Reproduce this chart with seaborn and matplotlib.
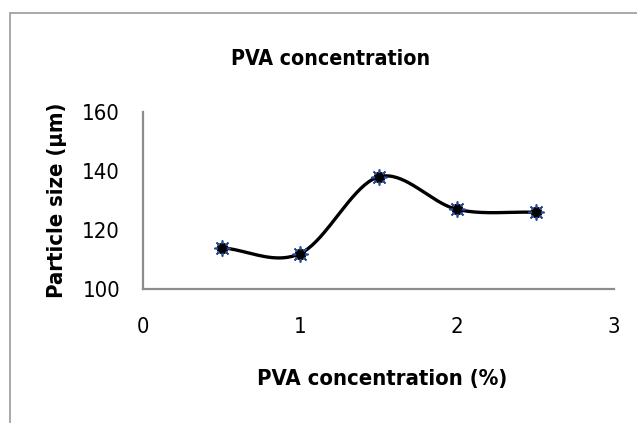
import numpy as np
import pandas as pd
import matplotlib
matplotlib.use("Agg")
import matplotlib.pyplot as plt
import seaborn as sns
from matplotlib.patches import Rectangle

# data
pva_conc = [0.5, 1.0, 1.5, 2.0, 2.5]
particle_size = [114, 112, 138, 127, 126]

df = pd.DataFrame({"conc": pva_conc, "size": particle_size})


# Excel-style smoothed line (Catmull-Rom through the points)
def smooth(x, y, n=40):
    x = np.asarray(x, float)
    y = np.asarray(y, float)
    px = np.concatenate([[2 * x[0] - x[1]], x, [2 * x[-1] - x[-2]]])
    py = np.concatenate([[2 * y[0] - y[1]], y, [2 * y[-1] - y[-2]]])
    xs, ys = [], []
    t = np.linspace(0, 1, n)
    for i in range(1, len(px) - 2):
        for p, out in ((px, xs), (py, ys)):
            p0, p1, p2, p3 = p[i - 1], p[i], p[i + 1], p[i + 2]
            out.extend(0.5 * ((2 * p1) + (-p0 + p2) * t
                              + (2 * p0 - 5 * p1 + 4 * p2 - p3) * t ** 2
                              + (-p0 + 3 * p1 - 3 * p2 + p3) * t ** 3))
    return np.array(xs), np.array(ys)


sns.set_theme(style="white")
plt.rcParams["font.family"] = ["DejaVu Sans"]
plt.rcParams["font.stretch"] = "condensed"
plt.rcParams["text.color"] = "black"
plt.rcParams["axes.labelcolor"] = "black"
plt.rcParams["xtick.color"] = "black"
plt.rcParams["ytick.color"] = "black"

fig = plt.figure(figsize=(6.37, 4.23), dpi=100)
ax = fig.add_axes([143 / 637, 1 - 289 / 423, 471 / 637, 177 / 423])

# chart area border
fig.patches.append(Rectangle((9.5 / 637, -0.1), 1.2, 1 - 13 / 423 + 0.1,
                             transform=fig.transFigure, fill=False,
                             edgecolor="#9a9a9a", linewidth=1.2))

sx, sy = smooth(pva_conc, particle_size)
sns.lineplot(x=sx, y=sy, ax=ax, color="black", linewidth=2.4, sort=False)
sns.scatterplot(data=df, x="conc", y="size", ax=ax, marker="o", s=60,
                color="black", edgecolor="black", zorder=3)
sns.scatterplot(data=df, x="conc", y="size", ax=ax, marker=(8, 2, 0), s=120,
                color="#2a4a9a", linewidth=1.2, zorder=4)
sns.scatterplot(data=df, x="conc", y="size", ax=ax, marker="o", s=35,
                color="black", edgecolor="black", zorder=5)

ax.set_xlim(0, 3)
ax.set_ylim(100, 160)
ax.set_xticks([0, 1, 2, 3])
ax.set_yticks([100, 120, 140, 160])
ax.tick_params(axis="x", length=0, pad=20.5, labelsize=15.8)
ax.tick_params(axis="y", length=0, pad=16.5, labelsize=15.8)
for s in ["top", "right"]:
    ax.spines[s].set_visible(False)
for s in ["left", "bottom"]:
    ax.spines[s].set_color("#8c8c8c")
    ax.spines[s].set_linewidth(1.6)

ax.set_xlabel("PVA concentration (%)", fontsize=15.8, fontweight="bold", va="baseline")
ax.xaxis.set_label_coords((382 - 143) / 471, (289 - 385) / 177)
ax.set_ylabel("Particle size (µm)", fontsize=15.8, fontweight="bold", va="baseline")
ax.yaxis.set_label_coords((63 - 143) / 471, 0.5)
fig.text(331 / 637, 1 - 65 / 423, "PVA concentration", ha="center", va="baseline",
         fontsize=15.3, fontweight="bold")

fig.savefig("out.png", dpi=100)
